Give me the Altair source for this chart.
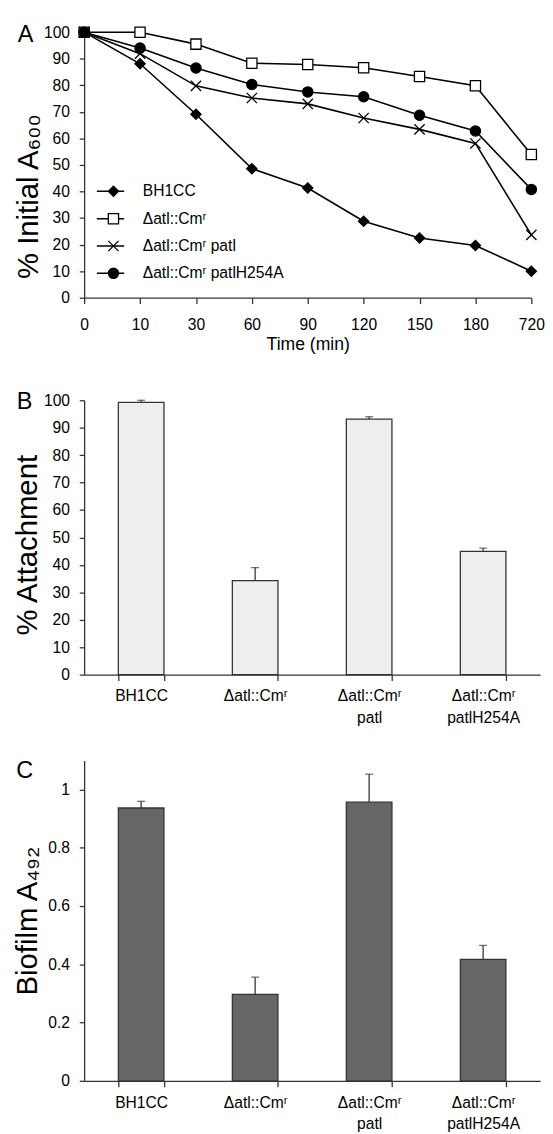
import altair as alt
import pandas as pd

FONT = "Liberation Sans"

# ---------------- data ----------------
times = ["0", "10", "30", "60", "90", "120", "150", "180", "720"]
series_names = ["BH1CC", "Δatl::Cmʳ", "Δatl::Cmʳ patl", "Δatl::Cmʳ patlH254A"]
bh1cc = [100, 88.1, 69.1, 48.6, 41.3, 28.8, 22.5, 19.7, 10.0]
atl = [100, 100, 95.5, 88.3, 87.8, 86.6, 83.3, 79.8, 53.9]
atl_patl = [100, 91.9, 79.8, 75.2, 73.0, 67.7, 63.4, 58.1, 23.7]
atl_h254a = [100, 94.0, 86.5, 80.3, 77.5, 75.7, 68.7, 62.8, 40.8]

strains = ["BH1CC", "Δatl::Cmʳ", "Δatl::Cmʳ|patl", "Δatl::Cmʳ|patlH254A"]
attach = [99.2, 34.3, 93.1, 44.9]
attach_err = [0.8, 4.7, 0.9, 1.2]
biofilm = [0.937, 0.297, 0.957, 0.417]
biofilm_err = [0.023, 0.059, 0.096, 0.048]

rows = []
for name, vals in zip(series_names, [bh1cc, atl, atl_patl, atl_h254a]):
    for t, v in zip(times, vals):
        rows.append({"time": t, "series": name, "value": v})
dfA = pd.DataFrame(rows)
dfB = pd.DataFrame({"strain": strains, "value": attach, "err": attach_err})
dfC = pd.DataFrame({"strain": strains, "value": biofilm, "err": biofilm_err})

X_PATH = "M-1,-1L1,1M-1,1L1,-1"

# ---------------- panel A ----------------
WA, HA = 458, 272
xA = alt.X("time:O", sort=times, scale=alt.Scale(type="point", padding=0),
           axis=alt.Axis(title="Time (min)", labelAngle=0, tickSize=6, labelPadding=14,
                         labelFontSize=16, titleFontSize=18, titleX=WA / 2, titleY=48.5,
                         titleBaseline="middle"))
yA = alt.Y("value:Q", scale=alt.Scale(domain=[0, 100], nice=False),
           axis=alt.Axis(values=list(range(0, 101, 10)), title="% Initial A₆₀₀", tickSize=5,
                         labelPadding=10, labelFontSize=16, titleFontSize=30, titleX=-57,
                         titleY=168, titleBaseline="middle", titleAlign="center"))

line_legend = alt.Legend(title=None, orient="none", legendX=12, legendY=149, symbolType="stroke",
                         symbolSize=784, symbolStrokeWidth=1.6, symbolStrokeColor="black",
                         clipHeight=28, rowPadding=0, labelExpr="''", labelFontSize=16,
                         labelFont=FONT, padding=0)
lines = alt.Chart(dfA).transform_calculate(line_series="datum.series").mark_line(strokeWidth=1.6).encode(
    x=xA, y=yA,
    color=alt.Color("line_series:N", sort=series_names,
                    scale=alt.Scale(domain=series_names, range=["black"] * 4), legend=line_legend),
)

pt_legend = alt.Legend(title=None, orient="none", legendX=12, legendY=149, clipHeight=28,
                       rowPadding=0, symbolOffset=10, labelOffset=22, symbolSize=110,
                       symbolStrokeWidth=1.3, labelFontSize=16,
                       labelFont=FONT, labelColor="black", padding=0)
points = alt.Chart(dfA).mark_point(strokeWidth=1.3, opacity=1, size=110).encode(
    x=xA, y=yA,
    shape=alt.Shape("series:N", sort=series_names,
                    scale=alt.Scale(domain=series_names, range=["diamond", "square", X_PATH, "circle"]),
                    legend=pt_legend),
    fill=alt.Fill("series:N", sort=series_names,
                  scale=alt.Scale(domain=series_names, range=["black", "white", "transparent", "black"]),
                  legend=pt_legend),
    stroke=alt.Stroke("series:N", sort=series_names,
                      scale=alt.Scale(domain=series_names, range=["black"] * 4),
                      legend=pt_legend),
)

letterA = alt.Chart(alt.Data(values=[{"t": "A"}])).mark_text(
    fontSize=24, font=FONT, align="center", baseline="middle", color="black").encode(
    text="t:N", x=alt.value(-60), y=alt.value(3.5))

chartA = alt.layer(lines, points, letterA).properties(width=WA, height=HA).resolve_scale(
    color="independent", shape="independent", fill="independent", stroke="independent")


# ---------------- bar panels ----------------
def bar_panel(df, letter, ytitle, domain, values, fmt, fill, H, title_y, letter_y):
    W = 467
    x = alt.X("strain:N", sort=strains, scale=alt.Scale(paddingInner=0.6, paddingOuter=0.3),
              axis=alt.Axis(title=None, labelAngle=0, labelExpr="split(datum.label, '|')",
                            tickBand="extent", tickSize=6, labelPadding=8, labelFontSize=16,
                            labelLineHeight=22))
    yaxis = alt.Axis(values=values, format=fmt, title=ytitle, tickSize=5, labelPadding=10,
                     labelFontSize=16, titleFontSize=30, titleX=-58, titleY=title_y,
                     titleBaseline="middle", titleAlign="center")
    yscale = alt.Scale(domain=domain, nice=False)
    base = alt.Chart(df)
    bars = base.mark_bar(fill=fill, stroke="#333333", strokeWidth=1.3).encode(
        x=x, y=alt.Y("value:Q", scale=yscale, axis=yaxis))
    hi = base.transform_calculate(hi="datum.value + datum.err")
    rule = hi.mark_rule(color="#333333", strokeWidth=1.3).encode(
        x=x, y=alt.Y("value:Q", scale=yscale, axis=yaxis), y2="hi:Q")
    cap = hi.mark_tick(color="#333333", thickness=1.3, size=8).encode(
        x=x, y=alt.Y("hi:Q", scale=yscale, axis=yaxis))
    let = alt.Chart(alt.Data(values=[{"t": letter}])).mark_text(
        fontSize=24, font=FONT, align="center", baseline="middle", color="black").encode(
        text="t:N", x=alt.value(-61), y=alt.value(letter_y))
    return alt.layer(rule, bars, cap, let).properties(width=W, height=H)


chartB = bar_panel(dfB, "B", "% Attachment", [0, 100], list(range(0, 101, 10)), "d",
                   "#eeeeee", 281, 148, 2)
chartC = bar_panel(dfC, "C", "Biofilm A₄₉₂", [0, 1.1], [0, 0.2, 0.4, 0.6, 0.8, 1.0], "~g",
                   "#666666", 328, 164, 10.5)

RES = dict(color="independent", shape="independent", fill="independent", stroke="independent")

top = alt.vconcat(chartA, chartB, spacing=37).resolve_scale(**RES).resolve_legend(**RES)

chart = alt.vconcat(top, chartC, spacing=34).resolve_scale(**RES).resolve_legend(**RES).properties(
    padding={"left": 5, "top": 2, "right": 0, "bottom": 0}
).configure_view(stroke=None).configure_axis(
    labelFont=FONT, titleFont=FONT, labelColor="black", titleColor="black",
    domainColor="#333333", tickColor="#333333", domainWidth=1.3, tickWidth=1.3,
    grid=False, titleFontWeight="normal"
).configure_text(font=FONT)

chart.save("out.html", embed_options={"renderer": "svg", "actions": False})
